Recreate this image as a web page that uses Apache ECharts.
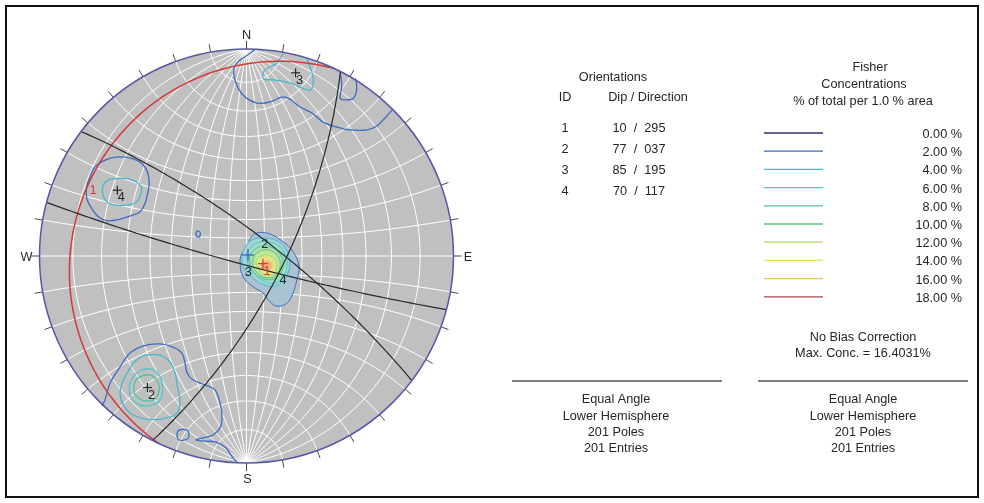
<!DOCTYPE html>
<html>
<head>
<meta charset="utf-8">
<script src="https://cdn.jsdelivr.net/npm/echarts@6/dist/echarts.min.js"></script>
<style>
html, body { margin: 0; padding: 0; background: #fff; }
#chart { width: 984px; height: 503px; }
</style>
</head>
<body>
<div id="chart"></div>
<script>
// orientations (dip / dip direction)
var planeIds = [1, 2, 3, 4];
var planeDips = [10, 77, 85, 70];
var planeDirs = [295, 37, 195, 117];
// blue cross near the centre (trend, plunge)
var bluePole = [56, 89];

// legend
var legendLevels = [0, 2, 4, 6, 8, 10, 12, 14, 16, 18];
var maxConc = '16.4031';
var poleCount = 201;
var entryCount = 201;

// contours, in net coordinates (x east, y north, primitive radius = 1)
var centerContours = [
  { level: 2, pts: [[0.001,0.037],[0.031,0.101],[0.098,0.111],[0.176,0.069],[0.225,0.021],[0.254,-0.052],[0.243,-0.116],[0.225,-0.179],[0.194,-0.229],[0.146,-0.242],[0.114,-0.221],[0.080,-0.179],[0.031,-0.148],[-0.017,-0.100],[-0.031,-0.035],[-0.023,0.013]] },
  { level: 4, pts: [[-0.009,0.039],[0.031,0.079],[0.088,0.087],[0.152,0.071],[0.192,0.030],[0.209,-0.026],[0.200,-0.082],[0.176,-0.122],[0.136,-0.146],[0.088,-0.139],[0.040,-0.114],[-0.001,-0.074],[-0.022,-0.026]] },
  { level: 6, pts: [[0.007,0.024],[0.051,0.063],[0.104,0.068],[0.157,0.048],[0.186,0.010],[0.196,-0.039],[0.181,-0.097],[0.143,-0.130],[0.094,-0.126],[0.051,-0.097],[0.017,-0.058],[0.002,-0.014]] },
  { level: 8, pts: [[0.023,0.014],[0.071,0.047],[0.128,0.039],[0.168,-0.001],[0.176,-0.050],[0.160,-0.090],[0.120,-0.114],[0.071,-0.106],[0.031,-0.074],[0.015,-0.026]] },
  { level: 10, pts: [[0.041,0.005],[0.080,0.029],[0.123,0.024],[0.157,-0.010],[0.162,-0.053],[0.143,-0.092],[0.104,-0.106],[0.065,-0.092],[0.036,-0.058],[0.031,-0.024]] },
  { level: 12, pts: [[0.056,-0.010],[0.096,0.006],[0.136,-0.018],[0.144,-0.058],[0.128,-0.090],[0.088,-0.090],[0.059,-0.066],[0.047,-0.034]] },
  { level: 14, pts: [[0.065,-0.014],[0.099,-0.005],[0.128,-0.029],[0.128,-0.068],[0.104,-0.082],[0.075,-0.077],[0.060,-0.048]] },
  { level: 16, pts: [[0.080,-0.026],[0.112,-0.026],[0.122,-0.050],[0.109,-0.068],[0.080,-0.066],[0.070,-0.043]] }
];

var lineContours = [
  // NW cluster
  { level: 2, pts: [[-0.756,0.383],[-0.732,0.431],[-0.675,0.467],[-0.619,0.479],[-0.555,0.472],[-0.506,0.448],[-0.479,0.407],[-0.470,0.351],[-0.479,0.295],[-0.490,0.255],[-0.514,0.214],[-0.563,0.193],[-0.627,0.174],[-0.675,0.171],[-0.716,0.190],[-0.748,0.230],[-0.772,0.279],[-0.772,0.335]] },
  { level: 4, pts: [[-0.692,0.343],[-0.668,0.367],[-0.619,0.375],[-0.563,0.371],[-0.514,0.343],[-0.506,0.319],[-0.530,0.262],[-0.579,0.246],[-0.635,0.246],[-0.675,0.262],[-0.695,0.303]] },
  { level: 2, pts: [[-0.239,0.121],[-0.225,0.116],[-0.225,0.097],[-0.234,0.092],[-0.244,0.101]] },
  // SW cluster
  { level: 2, pts: [[-0.698,-0.725],[-0.684,-0.696],[-0.659,-0.614],[-0.611,-0.536],[-0.563,-0.469],[-0.500,-0.435],[-0.418,-0.425],[-0.355,-0.440],[-0.312,-0.469],[-0.297,-0.517],[-0.287,-0.565],[-0.258,-0.599],[-0.200,-0.623],[-0.152,-0.647],[-0.128,-0.710],[-0.118,-0.778],[-0.128,-0.831],[-0.162,-0.865],[-0.210,-0.879],[-0.244,-0.889],[-0.200,-0.894],[-0.147,-0.899],[-0.099,-0.928],[-0.065,-0.976],[-0.046,-0.995]] },
  { level: 2, pts: [[-0.331,-0.845],[-0.287,-0.841],[-0.278,-0.874],[-0.302,-0.889],[-0.331,-0.884]] },
  { level: 4, pts: [[-0.547,-0.518],[-0.499,-0.483],[-0.426,-0.478],[-0.370,-0.511],[-0.345,-0.567],[-0.334,-0.631],[-0.321,-0.704],[-0.337,-0.760],[-0.394,-0.784],[-0.474,-0.789],[-0.547,-0.768],[-0.595,-0.720],[-0.611,-0.663],[-0.595,-0.599],[-0.563,-0.543]] },
  { level: 6, pts: [[-0.547,-0.583],[-0.514,-0.554],[-0.458,-0.547],[-0.418,-0.583],[-0.405,-0.639],[-0.418,-0.696],[-0.458,-0.720],[-0.514,-0.720],[-0.555,-0.687],[-0.566,-0.631]] },
  { level: 8, pts: [[-0.524,-0.589],[-0.466,-0.575],[-0.428,-0.609],[-0.423,-0.657],[-0.452,-0.696],[-0.505,-0.696],[-0.539,-0.667],[-0.543,-0.623]] },
  // N cluster
  { level: 2, pts: [[0.041,0.998],[-0.002,0.966],[-0.036,0.942],[-0.060,0.908],[-0.056,0.850],[-0.017,0.778],[0.051,0.739],[0.114,0.744],[0.171,0.768],[0.210,0.758],[0.258,0.720],[0.316,0.691],[0.370,0.647],[0.437,0.623],[0.500,0.609],[0.582,0.609],[0.630,0.628],[0.669,0.667],[0.703,0.705]] },
  { level: 4, pts: [[0.178,0.984],[0.146,0.931],[0.089,0.899],[0.081,0.858],[0.146,0.850],[0.218,0.834],[0.307,0.802],[0.323,0.850],[0.307,0.914],[0.290,0.959]] },
  { level: 2, pts: [[0.452,0.893],[0.460,0.818],[0.452,0.762],[0.484,0.754],[0.516,0.762],[0.532,0.802],[0.529,0.850],[0.524,0.857]] }
];

var lineColor = { 0: '#30306e', 2: '#3d6cc0', 4: '#4cb6cf', 6: '#52c6c8', 8: '#52c0a2', 10: '#62c272', 12: '#acd862', 14: '#e2e066', 16: '#e8c466', 18: '#a44a4a' };
var fillColor = { 2: '#a9c3d3', 4: '#a3d5d6', 6: '#a2dbc9', 8: '#a8e0b0', 10: '#bde6a0', 12: '#dcec98', 14: '#f0e292', 16: '#f0b080' };
var RED = '#d23a3a';
var INK = '#262626';
var FONT = '12.7px "Liberation Sans", Arial, sans-serif';

function rad(d) { return d * Math.PI / 180; }
// lower hemisphere equal angle projection of a unit vector (east, north, down)
function proj(v) { return [v[0] / (1 + v[2]), v[1] / (1 + v[2])]; }
function lineVec(trend, plunge) {
  var t = rad(trend), p = rad(plunge);
  return [Math.cos(p) * Math.sin(t), Math.cos(p) * Math.cos(t), Math.sin(p)];
}
function greatCircle(dip, dir) {
  var s = [-Math.cos(rad(dir)), Math.sin(rad(dir)), 0];
  var d = lineVec(dir, dip);
  var out = [];
  for (var a = 0; a <= 180; a += 2) {
    var c = Math.cos(rad(a)), sn = Math.sin(rad(a));
    out.push(proj([c * s[0] + sn * d[0], c * s[1] + sn * d[1], Math.max(0, c * s[2] + sn * d[2])]));
  }
  return out;
}

// Wulff net, 10 degree, polar axis N-S
var netLines = [];
for (var k = 10; k < 180; k += 10) {
  var mer = [], sml = [];
  for (var a = 0; a <= 180; a += 3) {
    var c = Math.cos(rad(a)), s = Math.sin(rad(a));
    mer.push(proj([s * Math.cos(rad(k)), c, s * Math.sin(rad(k))]));
    sml.push(proj([Math.sin(rad(k)) * c, Math.cos(rad(k)), Math.sin(rad(k)) * s]));
  }
  netLines.push(mer, sml);
}

function toPx(api, pts) {
  return pts.map(function (p) { return api.coord(p); });
}
function text(str, x, y, color, align) {
  return { type: 'text', style: { text: str, x: x, y: y, fill: color || INK, font: FONT,
    textAlign: align || 'center', textVerticalAlign: 'middle', align: align || 'center', verticalAlign: 'middle' } };
}
function cross(x, y, h, color) {
  return [
    { type: 'line', shape: { x1: x - h, y1: y, x2: x + h, y2: y }, style: { stroke: color, lineWidth: 1.2 } },
    { type: 'line', shape: { x1: x, y1: y - h, x2: x, y2: y + h }, style: { stroke: color, lineWidth: 1.2 } }
  ];
}

function netItem(params, api) {
  var c = api.coord([0, 0]);
  var R = api.size([1, 1])[0];
  var kids = [{ type: 'circle', shape: { cx: c[0], cy: c[1], r: R }, style: { fill: '#c0c0c0' } }];
  netLines.forEach(function (l) {
    kids.push({ type: 'polyline', shape: { points: toPx(api, l) }, style: { stroke: '#ffffff', lineWidth: 1, fill: 'none' } });
  });
  return { type: 'group', children: kids };
}

function onRim(p) { return Math.sqrt(p[0] * p[0] + p[1] * p[1]) > 0.985; }

function lineContourItem(params, api) {
  var ct = lineContours[params.dataIndex];
  var open = onRim(ct.pts[0]) && onRim(ct.pts[ct.pts.length - 1]);
  return { type: open ? 'polyline' : 'polygon', shape: { points: toPx(api, ct.pts), smooth: 0.35 },
    style: { fill: 'none', stroke: lineColor[ct.level], lineWidth: 1.3 } };
}
function centerContourItem(params, api) {
  var ct = centerContours[params.dataIndex];
  return { type: 'polygon', shape: { points: toPx(api, ct.pts), smooth: 0.4 },
    style: { fill: fillColor[ct.level], stroke: lineColor[ct.level], lineWidth: 1 } };
}
function planeItem(params, api) {
  var i = params.dataIndex;
  return { type: 'polyline', shape: { points: toPx(api, greatCircle(planeDips[i], planeDirs[i])) },
    style: { fill: 'none', stroke: i === 0 ? RED : '#2a2a2a', lineWidth: i === 0 ? 1.5 : 1.2 } };
}
function rimItem(params, api) {
  var c = api.coord([0, 0]);
  var R = api.size([1, 1])[0];
  var kids = [{ type: 'circle', shape: { cx: c[0], cy: c[1], r: R }, style: { fill: 'none', stroke: '#5656a6', lineWidth: 1.5 } }];
  for (var az = 0; az < 360; az += 10) {
    var sx = Math.sin(rad(az)), cy = Math.cos(rad(az));
    kids.push({ type: 'line', shape: { x1: c[0] + R * sx, y1: c[1] - R * cy, x2: c[0] + (R + 8) * sx, y2: c[1] - (R + 8) * cy },
      style: { stroke: '#4a4a4a', lineWidth: 1 } });
  }
  kids.push(text('N', c[0], c[1] - R - 13.5));
  kids.push(text('S', c[0] + 1, c[1] + R + 16));
  kids.push(text('W', c[0] - R - 13, c[1] + 1));
  kids.push(text('E', c[0] + R + 14.5, c[1] + 1));
  return { type: 'group', children: kids };
}
function markerItem(params, api) {
  var kids = [];
  planeIds.forEach(function (id, i) {
    var color = i === 0 ? RED : INK;
    var pole = api.coord(proj(lineVec(planeDirs[i] + 180, 90 - planeDips[i])));
    var dipPt = api.coord(proj(lineVec(planeDirs[i], planeDips[i])));
    kids = kids.concat(cross(pole[0], pole[1], i === 0 ? 5 : 4.5, color));
    kids.push(text(String(id), pole[0] + 4, pole[1] + 7.5, color));
    kids.push(text(String(id), dipPt[0] + 4, dipPt[1] + 7.5, color));
  });
  var b = api.coord(proj(lineVec(bluePole[0], bluePole[1])));
  kids = kids.concat(cross(b[0], b[1], 6, '#3a5cc8'));
  return { type: 'group', children: kids };
}

// right-hand panel
function pad3(n) { return ('00' + n).slice(-3); }
var graphics = [{ type: 'rect', shape: { x: 6, y: 6, width: 972, height: 491 }, style: { fill: 'none', stroke: '#111', lineWidth: 2 } }];
function gText(str, x, y, align) {
  graphics.push({ type: 'text', style: { text: str, x: x, y: y, fill: INK, font: FONT,
    textAlign: align || 'center', textVerticalAlign: 'middle', align: align || 'center', verticalAlign: 'middle' } });
}
gText('Orientations', 613, 77);
gText('ID', 565, 97);
gText('Dip / Direction', 648, 97);
planeIds.forEach(function (id, i) {
  gText(String(id), 565, 128 + 21 * i);
  gText(planeDips[i] + '  /  ' + pad3(planeDirs[i]), 639, 128 + 21 * i);
});
gText('Fisher', 870, 67);
gText('Concentrations', 864, 84);
gText('% of total per 1.0 % area', 863, 101);
legendLevels.forEach(function (lv, i) {
  var y = 133 + 18.2 * i;
  graphics.push({ type: 'line', shape: { x1: 764, y1: y, x2: 823, y2: y }, style: { stroke: lineColor[lv], lineWidth: 1.3 } });
  gText(lv.toFixed(2) + ' %', 962, y + 1.5, 'right');
});
gText('No Bias Correction', 863, 337);
gText('Max. Conc. = ' + maxConc + '%', 863, 353);
[[512, 722, 616], [758, 968, 863]].forEach(function (b) {
  graphics.push({ type: 'line', shape: { x1: b[0], y1: 381, x2: b[1], y2: 381 }, style: { stroke: '#555', lineWidth: 1.5 } });
  gText('Equal Angle', b[2], 399);
  gText('Lower Hemisphere', b[2], 416);
  gText(poleCount + ' Poles', b[2], 432);
  gText(entryCount + ' Entries', b[2], 448);
});

var chart = echarts.init(document.getElementById('chart'));
function custom(render, data, z) {
  return { type: 'custom', renderItem: render, data: data, z: z, clip: false, silent: true, animation: false };
}
chart.setOption({
  animation: false,
  grid: { left: 39.5, top: 49, width: 414, height: 414 },
  xAxis: { type: 'value', min: -1, max: 1, show: false },
  yAxis: { type: 'value', min: -1, max: 1, show: false },
  graphic: graphics,
  series: [
    custom(netItem, [[0, 0]], 1),
    custom(centerContourItem, centerContours.map(function () { return [0, 0]; }), 2),
    custom(lineContourItem, lineContours.map(function () { return [0, 0]; }), 3),
    custom(planeItem, planeIds.map(function () { return [0, 0]; }), 4),
    custom(rimItem, [[0, 0]], 5),
    custom(markerItem, [[0, 0]], 6)
  ]
});
</script>
</body>
</html>
